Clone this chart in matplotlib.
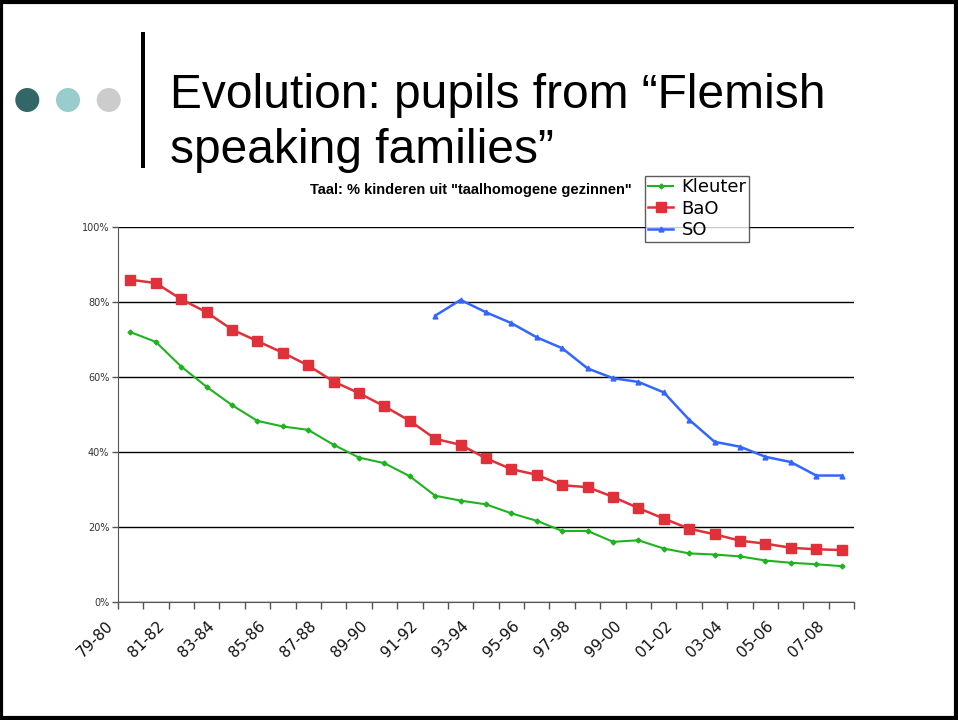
import matplotlib
matplotlib.use("Agg")
import matplotlib.pyplot as plt
from matplotlib.patches import Circle, Rectangle
import matplotlib.transforms as mtransforms
import numpy as np

years = ["79-80", "80-81", "81-82", "82-83", "83-84", "84-85", "85-86", "86-87",
         "87-88", "88-89", "89-90", "90-91", "91-92", "92-93", "93-94", "94-95",
         "95-96", "96-97", "97-98", "98-99", "99-00", "00-01", "01-02", "02-03",
         "03-04", "04-05", "05-06", "06-07", "07-08"]

kleuter = [72.0, 69.4, 62.8, 57.4, 52.5, 48.3, 46.8, 45.9, 41.9, 38.5, 37.0, 33.5,
           28.3, 27.0, 26.0, 23.6, 21.6, 18.9, 18.9, 16.0, 16.4, 14.2, 12.9, 12.6,
           12.1, 11.0, 10.4, 10.0, 9.5]
bao = [86.0, 85.1, 80.8, 77.3, 72.7, 69.6, 66.5, 63.1, 58.8, 55.7, 52.2, 48.3,
       43.5, 41.9, 38.3, 35.4, 33.9, 31.1, 30.6, 28.0, 25.0, 22.2, 19.5, 18.0,
       16.3, 15.5, 14.4, 14.0, 13.8]
so_start = 12
so = [76.4, 80.6, 77.3, 74.4, 70.6, 67.7, 62.3, 59.7, 58.7, 55.9, 48.6, 42.7,
      41.4, 38.7, 37.3, 33.7, 33.7]

title_lines = ["Evolution: pupils from \u201cFlemish", "speaking families\u201d"]
chart_title = 'Taal: % kinderen uit "taalhomogene gezinnen"'

W, H = 958, 720
fig = plt.figure(figsize=(W / 100, H / 100), dpi=100)

# overlay axes in pixel coordinates for slide decorations
deco = fig.add_axes([0, 0, 1, 1], zorder=-1)
deco.set_xlim(0, W)
deco.set_ylim(H, 0)
deco.axis("off")
deco.add_patch(Rectangle((1.5, 1.5), W - 3.5, H - 4, fill=False, edgecolor="black",
                         linewidth=3))
for cx, col in [(27.3, "#336666"), (68, "#99CCCC"), (108.7, "#CCCCCC")]:
    deco.add_patch(Circle((cx, 100), 12, facecolor=col, edgecolor="none"))
deco.add_patch(Rectangle((141, 32), 4.5, 136, facecolor="black", edgecolor="none"))
deco.text(170, 108, title_lines[0], fontsize=34.5, family="Liberation Sans",
          ha="left", va="baseline")
deco.text(170, 163, title_lines[1], fontsize=34.5, family="Liberation Sans",
          ha="left", va="baseline")
deco.text(471, 190, chart_title, fontsize=10.5, fontweight="bold",
          family="Liberation Sans", ha="center", va="center")

ax = fig.add_axes([117.7 / W, 1 - 601.7 / H, (854.3 - 117.7) / W, (601.7 - 227.3) / H])
x = np.arange(len(years))
ax.plot(x, kleuter, color="#1FB31F", lw=1.5, marker="D", ms=2.5, label="Kleuter")
ax.plot(x, bao, color="#E0303A", lw=1.8, marker="s", ms=6.5, label="BaO")
ax.plot(x[so_start:so_start + len(so)], so, color="#3366FF", lw=1.8, marker="^", ms=3.5,
        label="SO")

ax.set_xlim(-0.5, len(years) - 0.5)
ax.set_ylim(0, 100)
ax.set_yticks([0, 20, 40, 60, 80, 100])
ax.set_yticklabels(["0%", "20%", "40%", "60%", "80%", "100%"], fontsize=7,
                   color="#333333", family="DejaVu Sans")
ax.yaxis.grid(True, color="black", lw=1)
ax.set_axisbelow(True)
ax.tick_params(axis="y", length=4, width=1, color="#555555", pad=2)

# category boundary ticks, labels drawn every other category
ax.set_xticks(np.arange(len(years) + 1) - 0.5)
ax.set_xticklabels([])
ax.tick_params(axis="x", length=5, width=1, color="#555555")
lab_trans = ax.get_xaxis_transform() + mtransforms.ScaledTranslation(
    -25 / 100, -16.7 / 100, fig.dpi_scale_trans)
for i in range(0, len(years), 2):
    ax.text(x[i], 0, years[i], transform=lab_trans, rotation=45, ha="right", va="top",
            rotation_mode="anchor", fontsize=11, family="DejaVu Sans", color="#111111",
            clip_on=False)

for s in ["top", "right"]:
    ax.spines[s].set_visible(False)
ax.spines["left"].set_color("#555555")
ax.spines["bottom"].set_color("#555555")

leg = fig.legend(loc="upper left", bbox_to_anchor=(645.3 / W, 1 - 175.7 / H),
                 fontsize=13, frameon=True, fancybox=False, edgecolor="#333333",
                 handlelength=1.4, handletextpad=0.45, borderpad=0.15,
                 labelspacing=0.18, borderaxespad=0)
leg.get_frame().set_linewidth(1)
leg.set_zorder(10)

fig.savefig("out.png", dpi=100)
